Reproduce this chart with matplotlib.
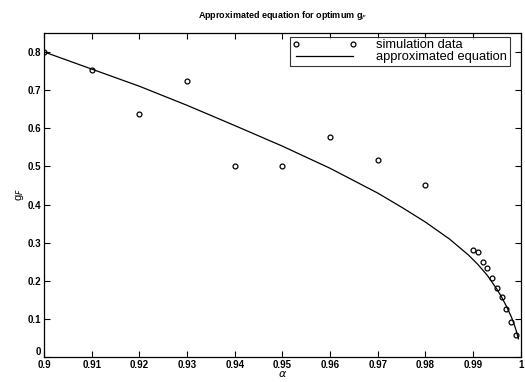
import numpy as np
import matplotlib
matplotlib.use('Agg')
import matplotlib.pyplot as plt

# simulation data
alpha_sim = [0.90, 0.91, 0.92, 0.93, 0.94, 0.95, 0.96, 0.97, 0.98,
             0.990, 0.991, 0.992, 0.993, 0.994, 0.995, 0.996, 0.997, 0.998, 0.999]
gF_sim = [0.80, 0.752, 0.638, 0.725, 0.50, 0.50, 0.576, 0.518, 0.452,
          0.282, 0.276, 0.250, 0.234, 0.208, 0.181, 0.157, 0.125, 0.093, 0.057]

# approximated equation (curve)
alpha_fit = [0.90, 0.91, 0.92, 0.93, 0.94, 0.95, 0.96, 0.97, 0.975, 0.98, 0.985,
             0.989, 0.991, 0.993, 0.995, 0.996, 0.997, 0.998, 0.9985,
             0.999, 0.9995]
gF_fit = [0.80, 0.755, 0.71, 0.66, 0.607, 0.553, 0.495, 0.43, 0.393, 0.354, 0.31,
          0.268, 0.243, 0.214, 0.178, 0.157, 0.133, 0.106, 0.09,
          0.071, 0.048]

xticks = [0.9, 0.91, 0.92, 0.93, 0.94, 0.95, 0.96, 0.97, 0.98, 0.99, 1.0]
xticklabels = ['0.9', '0.91', '0.92', '0.93', '0.94', '0.95', '0.96', '0.97', '0.98', '0.99', '1']
yticks = [0, 0.1, 0.2, 0.3, 0.4, 0.5, 0.6, 0.7, 0.8]
yticklabels = ['0', '0.1', '0.2', '0.3', '0.4', '0.5', '0.6', '0.7', '0.8']

plt.rcParams['font.family'] = ['Liberation Sans', 'DejaVu Sans']

fig = plt.figure(figsize=(5.25, 3.82), dpi=100)
ax = fig.add_axes([0.084, 0.065, 0.908, 0.849])

ax.plot(alpha_sim, gF_sim, 'o', mfc='none', mec='black', ms=3.5, mew=0.9,
        label='simulation data')
ax.plot(alpha_fit, gF_fit, '-', color='black', lw=0.9, label='approximated equation')

ax.set_xlim(0.9, 1.0)
ax.set_ylim(0, 0.85)
ax.set_xticks(xticks)
ax.set_xticklabels(xticklabels, fontsize=7, fontweight='bold')
ax.set_yticks(yticks)
ax.set_yticklabels(yticklabels, fontsize=7, fontweight='bold')
ax.get_yticklabels()[0].set_verticalalignment('bottom')
ax.tick_params(direction='in', top=True, right=True, length=4, width=0.8, pad=2)
for s in ax.spines.values():
    s.set_linewidth(0.9)

ax.set_title('Approximated equation for optimum g$_F$', fontsize=6.5, fontweight='bold', pad=11)
ax.set_xlabel(r'$\alpha$', fontsize=8, labelpad=-1)
ax.set_ylabel('g$_F$', fontsize=8, labelpad=1)

leg = ax.legend(loc='upper right', bbox_to_anchor=(0.977, 0.988), numpoints=2,
                fontsize=9.3, frameon=True, fancybox=False, edgecolor='black',
                borderpad=0.2, labelspacing=0.0, handlelength=5.0,
                handletextpad=1.5, borderaxespad=0.0)
leg.get_frame().set_linewidth(0.8)

fig.savefig('out.png', dpi=100)
